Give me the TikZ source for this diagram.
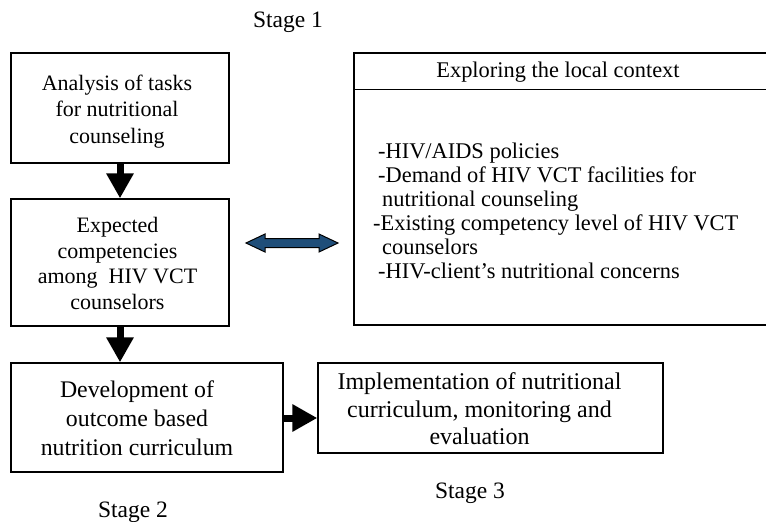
\documentclass[tikz,border=0pt]{standalone}
\usepackage{fontspec}
\setmainfont{Liberation Serif}
\usetikzlibrary{arrows.meta}
\definecolor{arrowblue}{HTML}{1F4E79}

\tikzset{
  stagebox/.style={draw, line width=1.4pt, inner sep=0pt, align=center},
  bigarrow/.style={line width=7pt, -{Triangle[length=25pt, width=26pt]}},
  stagelabel/.style={font=\fontsize{23.5}{24}\selectfont}
}
% centred lines, pulled left by #1/2 and pushed down by 4pt
\newcommand{\leftlines}[2]{\raisebox{0pt}[\dimexpr\height+7pt\relax]{\begin{tabular}{@{}c@{}}#2\end{tabular}}\hspace*{#1}}

\begin{document}
\begin{tikzpicture}[x=1pt, y=-1pt]
            \useasboundingbox (0,0) rectangle (766,522);
            \node [stagelabel] (s1) at (288,22) {Stage 1};
            \node [stagebox, minimum width=218pt, minimum height=110pt,
                   font=\fontsize{22}{26.5}\selectfont] (A) at (120,108)
                  {\leftlines{6pt}{Analysis of tasks\\for nutritional\\ counseling}};
            \node [stagebox, minimum width=218pt, minimum height=127pt,
                   font=\fontsize{22}{25.5}\selectfont] (B) at (120,262.5)
                  {\leftlines{5pt}{Expected\\competencies\\among~ HIV VCT\\counselors}};
            \node [stagebox, minimum width=272pt, minimum height=109pt,
                   font=\fontsize{23.8}{29}\selectfont] (C) at (147,417.5)
                  {\leftlines{20pt}{Development of\\outcome based\\nutrition curriculum}};
            \node [stagebox, minimum width=345pt, minimum height=90pt,
                   font=\fontsize{24}{27.5}\selectfont] (D) at (490.5,408)
                  {\leftlines{22pt}{Implementation of nutritional\\curriculum, monitoring and\\evaluation}};
            \node [stagebox, minimum width=414pt, minimum height=272pt] (E) at (561,189) {};
            \draw [line width=1.4pt] ([yshift=-37pt]E.north west) -- ([yshift=-37pt]E.north east);
            \node [font=\fontsize{22.4}{24}\selectfont] (Ehead) at (558,72) {Exploring the local context};
            \node [font=\fontsize{22.4}{24}\selectfont, anchor=north west, align=left, inner sep=0pt]
                  (Ebody) at (378,143)
                  {-HIV/AIDS policies\\
                   -Demand of HIV VCT facilities for\\
                   \hspace*{4pt}nutritional counseling\\
                   \hspace*{-5pt}-Existing competency level of HIV VCT\\
                   \hspace*{4pt}counselors\\
                   -HIV-client's nutritional concerns};
            \node [stagelabel] (s2) at (133,512) {Stage 2};
            \node [stagelabel] (s3) at (470,493) {Stage 3};
            \draw [bigarrow] (A.south) -- (B.north);
            \draw [bigarrow] (B.south) -- (B.south |- C.north);
            \coordinate (Cout) at (C.east |- 0,418);
            \draw [bigarrow] (Cout) -- (Cout -| D.west);
            % two-way link to the local context
            \draw [fill=arrowblue, line width=1pt, line join=miter]
                  (246,243) -- (265,234) -- (265,238.5) -- (319,238.5) -- (319,234)
                  -- (338,243) -- (319,252) -- (319,247.5) -- (265,247.5) -- (265,252) -- cycle;
        \end{tikzpicture}
\end{document}
